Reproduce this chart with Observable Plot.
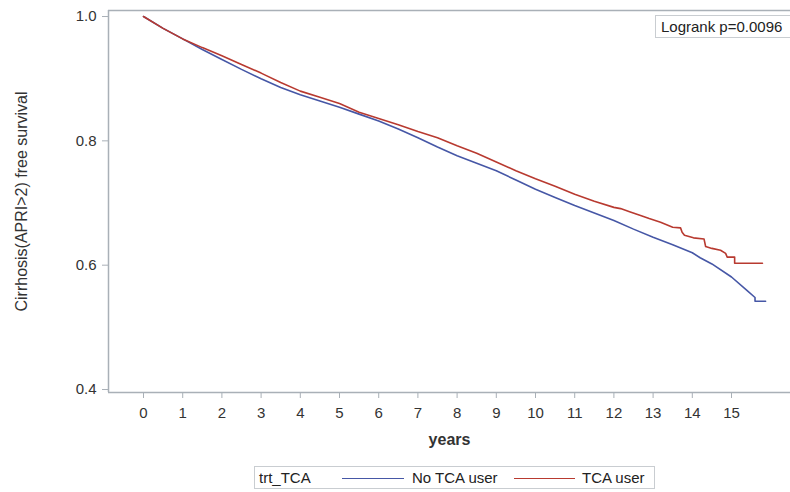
<!DOCTYPE html>
<html>
<head>
<meta charset="utf-8">
<script src="https://cdn.jsdelivr.net/npm/d3@7"></script>
<script src="https://cdn.jsdelivr.net/npm/@observablehq/plot@0.6"></script>
<style>
  html, body { margin: 0; padding: 0; background: #fff; overflow: hidden; }
  #wrap { position: relative; width: 790px; height: 492px; font-family: "Liberation Sans", Arial, sans-serif; color: #222; }
  #chart { position: absolute; left: 0; top: 0; }
  #chart g[aria-label="x-axis label"] text { font-weight: bold; font-size: 16px; }
  #chart g[aria-label="y-axis label"] text { font-size: 16px; }
  .box { position: absolute; border: 1px solid #c9cdd1; background: #fff; box-sizing: border-box; font-size: 15px; color: #222; }
  #logrank { left: 655px; top: 15px; width: 150px; height: 23px; padding-left: 5px; line-height: 21px; }
  #legend { left: 254px; top: 466px; width: 401px; height: 23px; }
  #legend span { position: absolute; top: 0; line-height: 21px; white-space: nowrap; }
  #legend i { position: absolute; top: 11px; height: 0; border-top: 1.5px solid; }
</style>
</head>
<body>
<div id="wrap">
  <div id="chart"></div>
  <div id="logrank" class="box"></div>
  <div id="legend" class="box"></div>
</div>
<script>
// ---- data ----
const groups = ["No TCA user", "TCA user"];
const groupColors = ["#4657a6", "#b83a30"];
const legendTitle = "trt_TCA";
const annotation = "Logrank p=0.0096";
const xLabel = "years";
const yLabel = "Cirrhosis(APRI>2) free survival";
const xTicks = [0,1,2,3,4,5,6,7,8,9,10,11,12,13,14,15];
const yTicks = [0.4, 0.6, 0.8, 1.0];

const noTcaTime = [0,0.5,1,1.5,2,2.5,3,3.5,4,4.5,5,5.5,6,6.5,7,7.5,8,8.5,9,9.5,10,10.5,11,11.5,12,12.5,13,13.5,14,14.2,14.5,15,15.4,15.6,15.6,15.87];
const noTcaSurv = [1.0,0.981,0.964,0.947,0.931,0.915,0.900,0.886,0.874,0.864,0.854,0.843,0.832,0.819,0.805,0.790,0.776,0.764,0.752,0.737,0.722,0.709,0.696,0.684,0.672,0.658,0.645,0.633,0.620,0.612,0.602,0.581,0.559,0.548,0.542,0.542];

const tcaTime = [0,0.5,1,1.5,2,2.5,3,3.5,4,4.5,5,5.5,6,6.5,7,7.5,8,8.5,9,9.5,10,10.5,11,11.5,12,12.17,12.4,12.68,12.9,13.19,13.5,13.7,13.74,13.8,14.03,14.3,14.34,14.5,14.72,14.85,14.89,15.08,15.08,15.79];
const tcaSurv = [1.0,0.981,0.964,0.950,0.937,0.923,0.909,0.894,0.880,0.870,0.860,0.846,0.836,0.826,0.815,0.805,0.792,0.780,0.766,0.752,0.739,0.727,0.714,0.703,0.693,0.691,0.686,0.680,0.675,0.669,0.661,0.660,0.653,0.648,0.644,0.642,0.630,0.627,0.624,0.619,0.613,0.613,0.603,0.603];

const xDomain = [-0.893, 16.505];
const yDomain = [0.3952, 1.0097];

// ---- build table ----
const rows = [];
noTcaTime.forEach((t, i) => rows.push({group: groups[0], t, s: noTcaSurv[i]}));
tcaTime.forEach((t, i) => rows.push({group: groups[1], t, s: tcaSurv[i]}));

const axisColor = "#a9b0b7";

const chart = Plot.plot({
  width: 790,
  height: 462,
  marginLeft: 108,
  marginRight: 0,
  marginTop: 10,
  marginBottom: 70,
  style: {fontFamily: "Liberation Sans, Arial, sans-serif", fontSize: "15px", color: "#333", background: "#fff", overflow: "visible"},
  x: {domain: xDomain},
  y: {domain: yDomain},
  color: {domain: groups, range: groupColors},
  marks: [
    Plot.ruleY([yDomain[1]], {stroke: axisColor, strokeWidth: 1.5}),
    Plot.ruleY([yDomain[0]], {stroke: axisColor, strokeWidth: 1.5}),
    Plot.ruleX([xDomain[0]], {stroke: axisColor, strokeWidth: 1.5}),
    Plot.axisX({ticks: xTicks, tickSize: 6, tickPadding: 9, stroke: axisColor, color: "#333",
      label: xLabel, labelAnchor: "center", labelArrow: "none", labelOffset: 52, fontSize: 15}),
    Plot.axisY({ticks: yTicks, tickSize: 6, tickPadding: 6, tickFormat: d3.format(".1f"), stroke: axisColor, color: "#333",
      label: yLabel, labelAnchor: "center", labelArrow: "none", labelOffset: 93, fontSize: 15}),
    Plot.line(rows, {x: "t", y: "s", z: "group", stroke: "group", strokeWidth: 1.6, curve: "linear"})
  ]
});
document.getElementById("chart").appendChild(chart);

document.getElementById("logrank").textContent = annotation;

const legend = document.getElementById("legend");
const items = [
  {html: `<span style="left:4px">${legendTitle}</span>`},
  {html: `<i style="left:87px;width:62px;border-color:${groupColors[0]}"></i>`},
  {html: `<span style="left:157px">${groups[0]}</span>`},
  {html: `<i style="left:259px;width:61px;border-color:${groupColors[1]}"></i>`},
  {html: `<span style="left:327px">${groups[1]}</span>`}
];
legend.innerHTML = items.map(d => d.html).join("");
</script>
</body>
</html>
